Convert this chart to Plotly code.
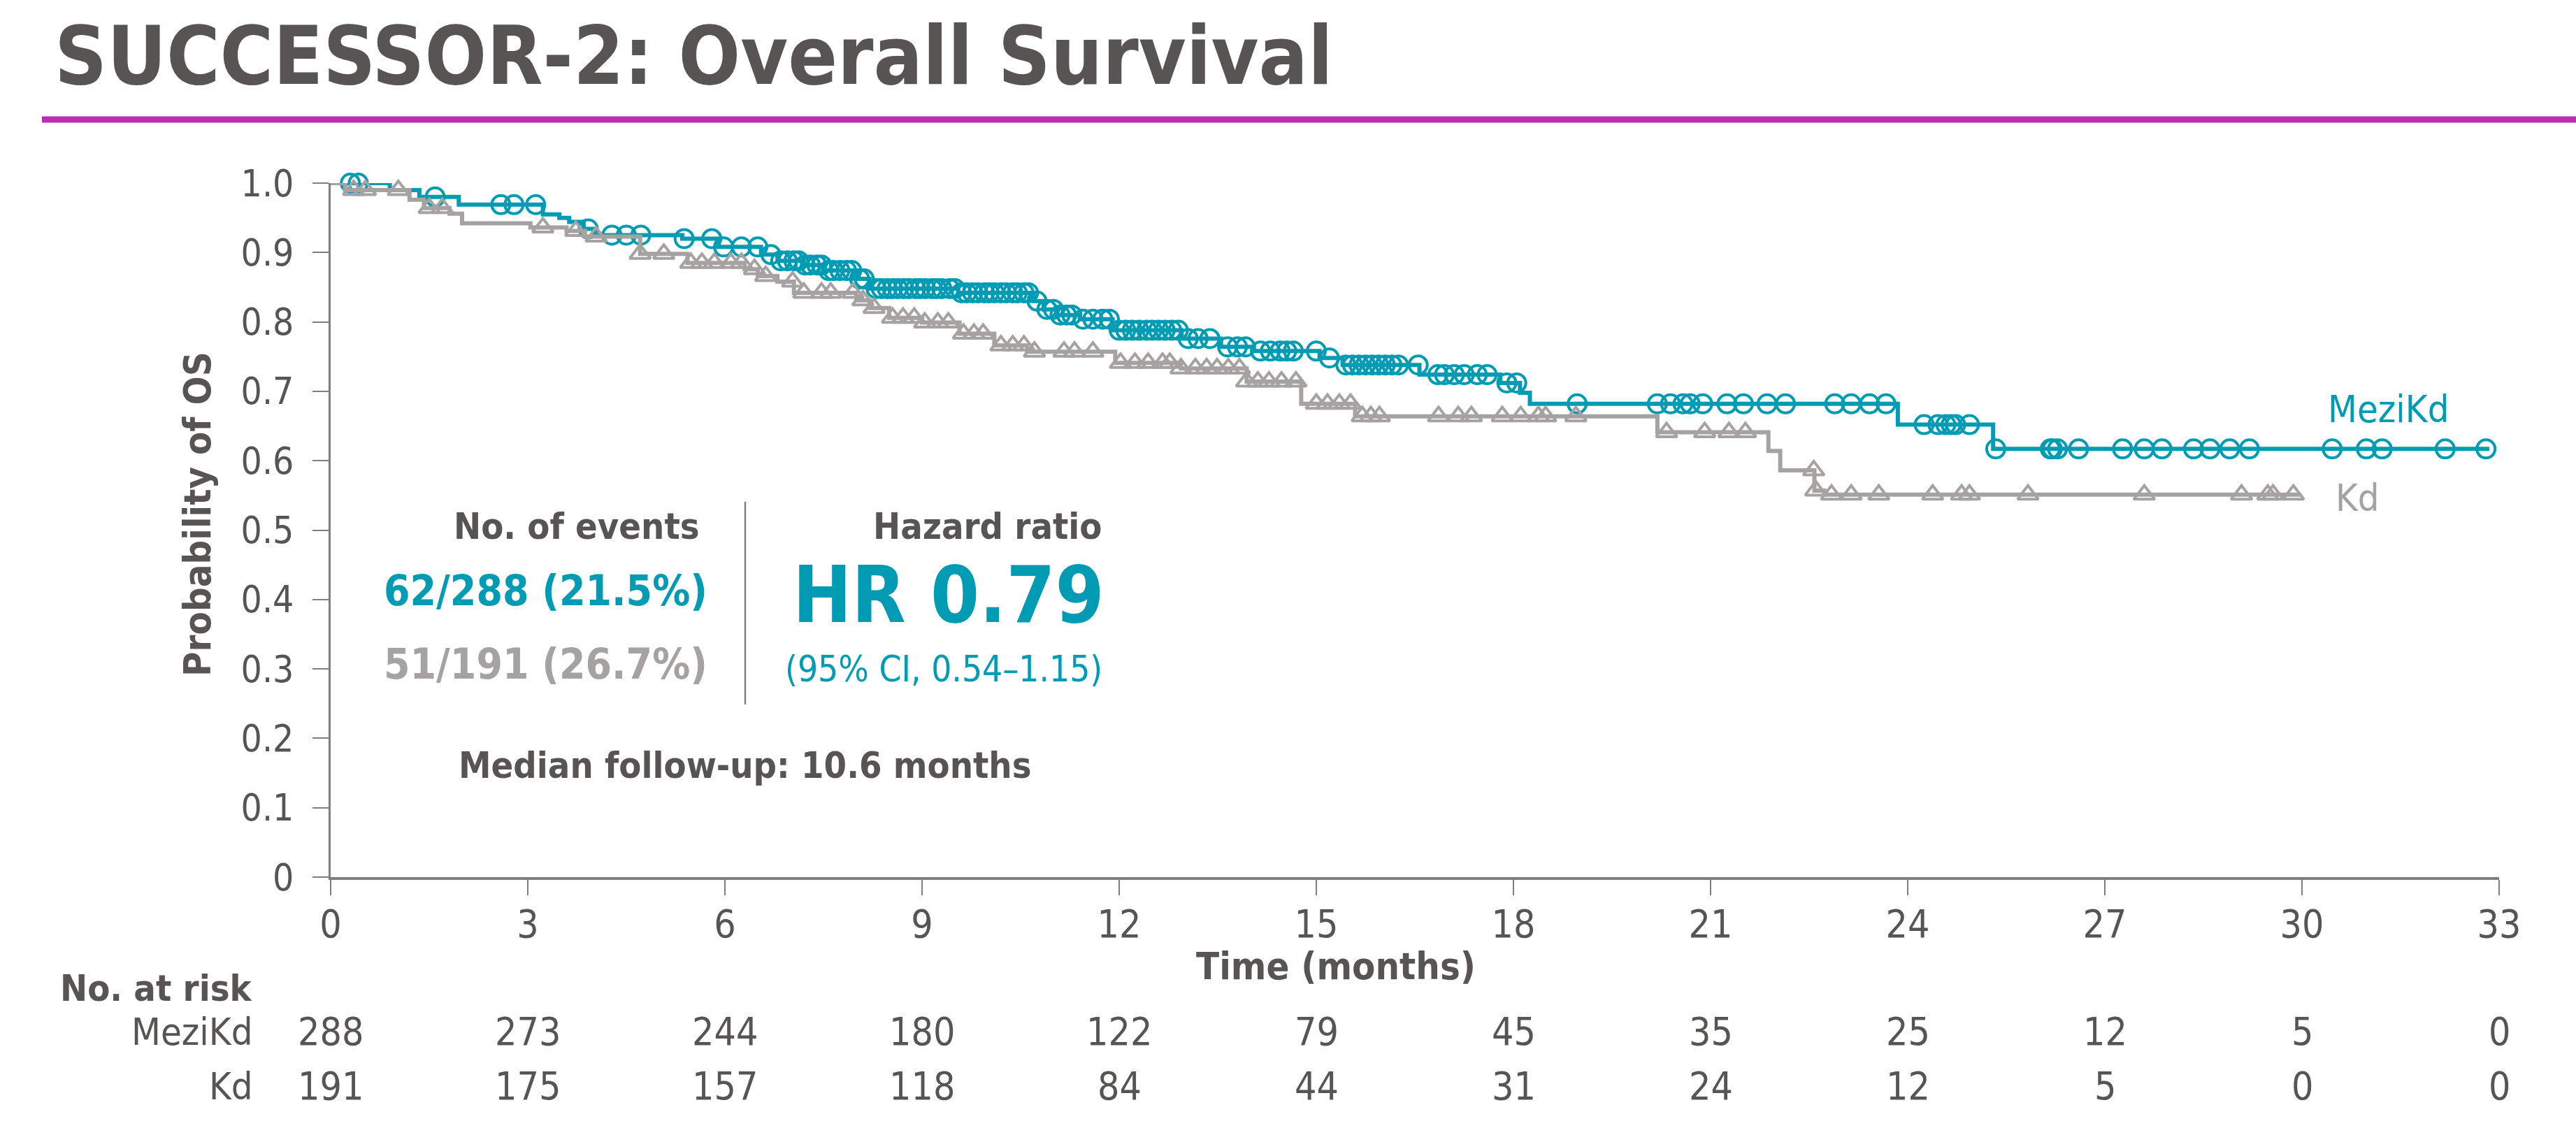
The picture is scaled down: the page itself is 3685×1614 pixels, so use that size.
import plotly.graph_objects as go

# ---------------- data ----------------
months_ticks = [0, 3, 6, 9, 12, 15, 18, 21, 24, 27, 30, 33]

# Kaplan-Meier steps (time of step, survival after step)
mezi_step_t = [0, 0.9, 1.35, 1.95, 3.23, 3.48, 3.63, 3.85, 4.0, 5.35, 5.9, 6.55, 6.8, 7.2, 7.5,
               8.0, 8.2, 9.55, 10.7, 10.85, 11.05, 11.4, 11.9, 12.95, 13.55, 14.05, 15.05, 15.4,
               16.57, 17.8, 18.1, 18.25, 23.85, 25.3]
mezi_step_s = [1.0, 0.990, 0.980, 0.969, 0.955, 0.950, 0.944, 0.934, 0.925, 0.920, 0.908, 0.897,
               0.888, 0.882, 0.874, 0.862, 0.848, 0.842, 0.830, 0.818, 0.810, 0.804, 0.788, 0.776,
               0.764, 0.758, 0.748, 0.738, 0.724, 0.712, 0.698, 0.682, 0.652, 0.617]
mezi_end = 32.85
mezi_censor = [0.3, 0.42, 1.59, 2.59, 2.79, 3.12, 3.92, 4.28, 4.5, 4.72, 5.38, 5.8, 5.98, 6.25, 6.5,
               6.7, 6.85, 6.95, 7.05, 7.12, 7.22, 7.3, 7.4, 7.47, 7.58, 7.65, 7.75, 7.85, 7.93, 8.05,
               8.12, 8.3, 8.38, 8.47, 8.55, 8.63, 8.72, 8.8, 8.9, 8.97, 9.05, 9.15, 9.22, 9.3, 9.42,
               9.5, 9.6, 9.68, 9.77, 9.85, 9.95, 10.02, 10.1, 10.2, 10.28, 10.38, 10.45, 10.55,
               10.62, 10.75, 10.9, 11.0, 11.1, 11.2, 11.28, 11.45, 11.6, 11.75, 11.85, 12.0, 12.1,
               12.2, 12.3, 12.42, 12.5, 12.6, 12.7, 12.8, 12.9, 13.05, 13.2, 13.38, 13.65, 13.8,
               13.92, 14.15, 14.3, 14.45, 14.55, 14.65, 15.0, 15.2, 15.45, 15.55, 15.65, 15.75,
               15.85, 15.95, 16.05, 16.15, 16.25, 16.55, 16.85, 16.95, 17.1, 17.25, 17.45, 17.6,
               17.9, 18.05, 18.97, 20.19, 20.39, 20.58, 20.69, 20.88, 21.25, 21.5, 21.86, 22.14,
               22.89, 23.14, 23.42, 23.67, 24.25, 24.46, 24.58, 24.66, 24.73, 24.94, 25.34, 26.17,
               26.2, 26.28, 26.6, 27.27, 27.6, 27.87, 28.35, 28.6, 28.9, 29.2, 30.46, 30.98, 31.22,
               32.18, 32.8]

kd_step_t = [0, 0.22, 1.2, 1.42, 1.81, 2.0, 3.04, 3.59, 3.87, 4.71, 5.43, 6.3, 6.5, 6.8, 7.05,
             8.0, 8.2, 8.5, 9.0, 9.57, 10.1, 10.6, 11.94, 12.94, 13.94, 14.77, 15.59, 20.19,
             21.88, 22.06, 22.58, 22.73]
kd_step_s = [1.0, 0.990, 0.976, 0.964, 0.956, 0.942, 0.936, 0.931, 0.923, 0.898, 0.885, 0.876,
             0.866, 0.858, 0.842, 0.831, 0.820, 0.806, 0.799, 0.783, 0.766, 0.757, 0.741, 0.733,
             0.714, 0.682, 0.664, 0.641, 0.614, 0.586, 0.557, 0.551]
kd_end = 29.97
kd_censor = [0.35, 0.53, 1.03, 1.5, 1.7, 3.23, 3.73, 4.04, 4.71, 5.07, 5.48, 5.65, 5.84, 6.09,
             6.25, 6.45, 6.62, 7.03, 7.2, 7.47, 7.61, 7.95, 8.1, 8.27, 8.55, 8.71, 8.88, 9.04,
             9.24, 9.4, 9.63, 9.79, 9.93, 10.2, 10.38, 10.55, 10.71, 11.16, 11.32, 11.6, 12.02,
             12.24, 12.44, 12.66, 12.77, 12.94, 13.16, 13.33, 13.49, 13.66, 13.83, 13.94, 14.11,
             14.28, 14.47, 14.69, 15.0, 15.17, 15.35, 15.52, 15.7, 15.83, 15.96, 16.86, 17.16,
             17.36, 17.83, 18.11, 18.38, 18.49, 18.95, 20.33, 20.91, 21.28, 21.53, 22.57, 22.6,
             22.84, 23.14, 23.56, 24.38, 24.82, 24.94, 25.83, 27.6, 29.08, 29.48, 29.56, 29.87]

risk_groups = ["MeziKd", "Kd"]
risk_mezi = [288, 273, 244, 180, 122, 79, 45, 35, 25, 12, 5, 0]
risk_kd = [191, 175, 157, 118, 84, 44, 31, 24, 12, 5, 0, 0]

events_mezi = "62/288 (21.5%)"
events_kd = "51/191 (26.7%)"
hr_text = "HR 0.79"
ci_text = "(95% CI, 0.54–1.15)"

# ---------------- style ----------------
TEAL = "#019CB4"
GRAY = "#A7A2A2"
DARK = "#595454"
AXIS = "#7F7F7F"
MAGENTA = "#BC2AB9"
FONT = "DejaVu Sans Condensed, Liberation Sans Narrow, Roboto Condensed, Arial Narrow, sans-serif"

W, H = 3685, 1614
X0, X1 = 473, 3575   # plot area px
Y0, Y1 = 262, 1255   # top (1.0), bottom (0)


def px(x):
    return (x - X0) / (X1 - X0)


def py(y):
    return (Y1 - y) / (Y1 - Y0)


def surv_at(ts, ss, t):
    v = ss[0]
    for ti, si in zip(ts, ss):
        if ti <= t:
            v = si
    return v


fig = go.Figure()

for ts, ss, end, cens, col, sym in [
    (mezi_step_t, mezi_step_s, mezi_end, mezi_censor, TEAL, "circle-open"),
    (kd_step_t, kd_step_s, kd_end, kd_censor, GRAY, "triangle-up-open"),
]:
    fig.add_trace(go.Scatter(
        x=ts + [end], y=ss + [ss[-1]], mode="lines", line=dict(color=col, width=6, shape="hv"),
        showlegend=False, cliponaxis=False, hoverinfo="skip"))
    fig.add_trace(go.Scatter(
        x=cens, y=[surv_at(ts, ss, t) for t in cens], mode="markers",
        marker=dict(symbol=sym, size=26, color=col, line=dict(color=col, width=4)),
        showlegend=False, cliponaxis=False, hoverinfo="skip"))

fig.update_layout(
    width=W, height=H,
    margin=dict(l=X0, r=W - X1, t=Y0, b=H - Y1),
    paper_bgcolor="white", plot_bgcolor="white",
    font=dict(family=FONT, color=DARK),
    xaxis=dict(range=[0, 33], tickvals=months_ticks, ticktext=[str(v) for v in months_ticks],
               showgrid=False, zeroline=False, showline=True, linecolor=AXIS, linewidth=4,
               ticks="outside", ticklen=22, tickwidth=2, tickcolor=AXIS,
               tickfont=dict(size=55, color=DARK, family=FONT), ticklabelstandoff=-6),
    yaxis=dict(range=[0, 1.0], tickvals=[i / 10 for i in range(11)],
               ticktext=["0"] + [f"{i/10:.1f}" for i in range(1, 11)],
               showgrid=False, zeroline=False, showline=True, linecolor=AXIS, linewidth=3,
               ticks="outside", ticklen=23, tickwidth=2, tickcolor=AXIS,
               tickfont=dict(size=53, color=DARK, family=FONT), ticklabelstandoff=16),
)

ann = []


def add(text, x, y, size, color=DARK, bold=False, xanchor="center", yanchor="middle",
        xref="paper", yref="paper", angle=0):
    ann.append(dict(text=text, x=x, y=y, xref=xref, yref=yref, showarrow=False,
                    xanchor=xanchor, yanchor=yanchor, textangle=angle,
                    font=dict(family=FONT, size=size, color=color,
                              weight="bold" if bold else "normal")))


# title
add("SUCCESSOR-2: Overall Survival", px(76), py(80), 116, DARK, True, "left")
# axis titles
add("Probability of OS", px(282), py(736), 54, DARK, True, angle=-90)
add("Time (months)", px(1911), py(1382), 54, DARK, True)
# in-plot stats
add("No. of events", px(1003), py(753), 52, DARK, True, "right")
add(events_mezi, px(1014), py(845), 60, TEAL, True, "right")
add(events_kd, px(1014), py(950), 60, GRAY, True, "right")
add("Hazard ratio", px(1579), py(753), 52, DARK, True, "right")
add(hr_text, px(1582), py(851), 112, TEAL, True, "right")
add(ci_text, px(1579), py(957), 51, TEAL, False, "right")
add("Median follow-up: 10.6 months", px(1066), py(1095), 52, DARK, True)
# curve labels
add("MeziKd", px(3328), py(585), 54, TEAL, False, "left")
add("Kd", px(3339), py(712), 54, GRAY, False, "left")
# at-risk table
add("No. at risk", px(364), py(1414), 52, DARK, True, "right")
for name, row, yy in [(risk_groups[0], risk_mezi, 1476), (risk_groups[1], risk_kd, 1554)]:
    add(name, px(364), py(yy), 54, DARK, False, "right")
    for t, n in zip(months_ticks, row):
        add(str(n), t, py(yy), 55, DARK, False, "center", xref="x")

fig.update_layout(annotations=ann)

# magenta rule under the title
fig.add_shape(type="line", xref="paper", yref="paper", x0=px(60), x1=px(3685),
              y0=py(171), y1=py(171), line=dict(color=MAGENTA, width=9))
# divider line between stats blocks
fig.add_shape(type="line", xref="paper", yref="paper", x0=px(1066), x1=px(1066),
              y0=py(718), y1=py(1008), line=dict(color=AXIS, width=2.5))

fig.write_html("out.html")
